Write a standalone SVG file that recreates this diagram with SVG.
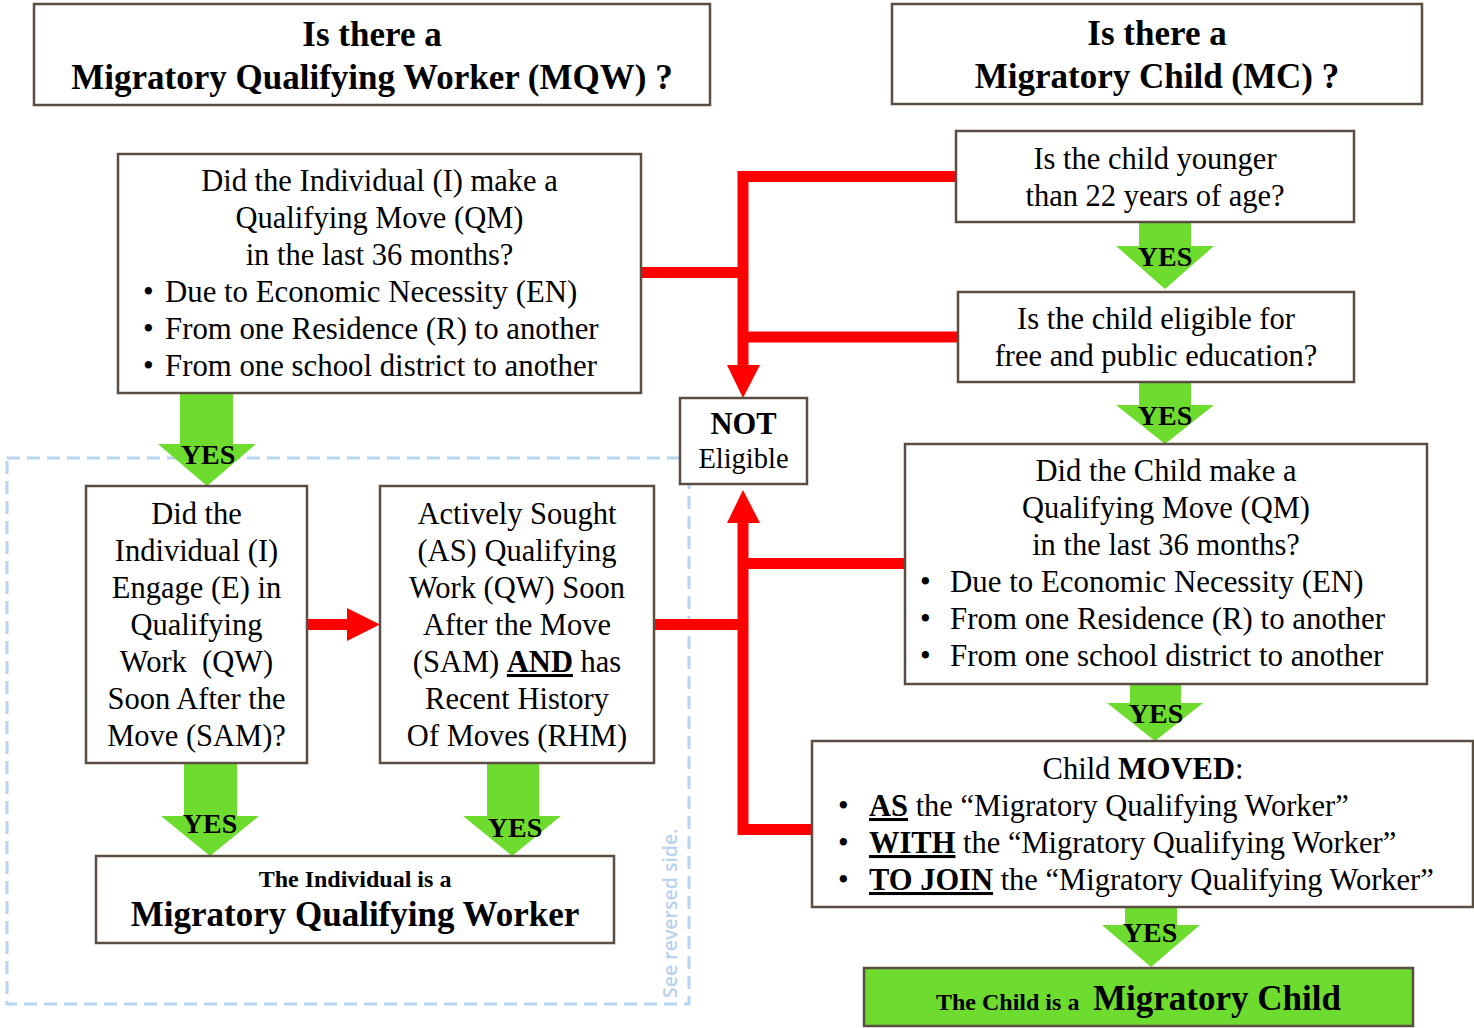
<svg xmlns="http://www.w3.org/2000/svg" width="1474" height="1028" viewBox="0 0 1474 1028">
<style>
.box{fill:#fff;stroke:#5a4e42;stroke-width:2.5}
.t{font-family:"Liberation Serif","Times New Roman",serif;font-size:30.5px;fill:#000}
.c{text-anchor:middle}
.b{font-weight:bold}
.h{font-family:"Liberation Serif","Times New Roman",serif;font-size:35px;font-weight:bold;text-anchor:middle;fill:#000}
.yes{font-family:"Liberation Serif","Times New Roman",serif;font-size:28px;font-weight:bold;text-anchor:middle;fill:#000}
.red{fill:none;stroke:#ff0000;stroke-width:11;stroke-linejoin:miter}
.rh{fill:#ff0000}
.g{fill:#6ddc2f}
.u{text-decoration:underline;font-weight:bold}
</style>
<rect width="1474" height="1028" fill="#fff"/>
<rect id="mqw-region" x="7" y="458" width="682" height="546" fill="none" stroke="#b8d4f4" stroke-width="3" stroke-dasharray="13 7"/>
<text transform="translate(677,998) rotate(-90)" font-family="'Open Sans',sans-serif" font-size="19.5" font-weight="600" fill="#b8d1ec">See reversed side.</text>
<g id="connectors">
<path class="red" d="M641 272.5H743"/>
<path class="red" d="M956 176.5H743V366"/>
<path class="red" d="M958 337H743"/>
<polygon class="rh" points="727,365 760,365 743,398"/>
<path class="red" d="M812 829.5H743V522"/>
<polygon class="rh" points="727,523 760,523 743,490"/>
<path class="red" d="M905 563.5H743"/>
<path class="red" d="M654 624.5H743"/>
<path class="red" d="M307 624.5H348"/>
<polygon class="rh" points="347,608 347,641 380,624.5"/>
<g id="yes1"><polygon class="g" points="180,393 233,393 233,444 256,444 207,486 158,444 180,444"/><text class="yes" x="208" y="464">YES</text></g>
<g id="yes2"><polygon class="g" points="1139,222 1191,222 1191,246 1214,246 1165,289 1116,246 1139,246"/><text class="yes" x="1165" y="266">YES</text></g>
<g id="yes3"><polygon class="g" points="1139,382 1191,382 1191,405 1214,405 1165,444 1116,405 1139,405"/><text class="yes" x="1165" y="425">YES</text></g>
<g id="yes4"><polygon class="g" points="1130,684 1181,684 1181,703 1203,703 1155,741 1107,703 1130,703"/><text class="yes" x="1156" y="723">YES</text></g>
<g id="yes5"><polygon class="g" points="1125,907 1177,907 1177,925 1200,925 1151,967 1102,925 1125,925"/><text class="yes" x="1150" y="942">YES</text></g>
<g id="yes6"><polygon class="g" points="184,763 237,763 237,816 259,816 210,856 161,816 184,816"/><text class="yes" x="210" y="833">YES</text></g>
<g id="yes7"><polygon class="g" points="487,763 539,763 539,816 561,816 512,856 463,816 487,816"/><text class="yes" x="515" y="837">YES</text></g>
</g>
<g id="title-mqw"><rect class="box" x="34" y="4" width="676" height="101"/>
<text class="h" x="372" y="46">Is there a</text><text class="h" x="372" y="89">Migratory Qualifying Worker (MQW) ?</text></g>
<g id="title-mc"><rect class="box" x="892" y="4" width="530" height="100"/>
<text class="h" x="1157" y="45">Is there a</text><text class="h" x="1157" y="88">Migratory Child (MC) ?</text></g>
<g id="individual-qm"><rect class="box" x="118" y="154" width="523" height="239"/>
<text class="t c" x="379.5" y="191">Did the Individual (I) make a</text>
<text class="t c" x="379.5" y="228">Qualifying Move (QM)</text>
<text class="t c" x="379.5" y="265">in the last 36 months?</text>
<text class="t" x="143" y="302">•</text><text class="t" x="165" y="302" style="font-size:30.8px">Due to Economic Necessity (EN)</text>
<text class="t" x="143" y="339">•</text><text class="t" x="165" y="339" style="font-size:30.8px">From one Residence (R) to another</text>
<text class="t" x="143" y="376">•</text><text class="t" x="165" y="376" style="font-size:30.8px">From one school district to another</text></g>
<g id="child-age"><rect class="box" x="956" y="131" width="398" height="91"/>
<text class="t c" x="1155" y="169">Is the child younger</text>
<text class="t c" x="1155" y="206">than 22 years of age?</text></g>
<g id="child-education"><rect class="box" x="958" y="292" width="396" height="90"/>
<text class="t c" x="1156" y="329">Is the child eligible for</text>
<text class="t c" x="1156" y="366">free and public education?</text></g>
<g id="not-eligible"><rect class="box" x="680" y="398" width="127" height="86"/>
<text class="t c b" x="743.5" y="434" font-size="28">NOT</text>
<text class="t c" x="743.5" y="468" style="font-size:28.5px">Eligible</text></g>
<g id="child-qm"><rect class="box" x="905" y="444" width="522" height="240"/>
<text class="t c" x="1166" y="481">Did the Child make a</text>
<text class="t c" x="1166" y="518">Qualifying Move (QM)</text>
<text class="t c" x="1166" y="555">in the last 36 months?</text>
<text class="t" x="920" y="592">•</text><text class="t" x="950" y="592" style="font-size:30.9px">Due to Economic Necessity (EN)</text>
<text class="t" x="920" y="629">•</text><text class="t" x="950" y="629" style="font-size:30.9px">From one Residence (R) to another</text>
<text class="t" x="920" y="666">•</text><text class="t" x="950" y="666" style="font-size:30.9px">From one school district to another</text></g>
<g id="child-moved"><rect class="box" x="812" y="741" width="661" height="166"/>
<text class="t c" x="1143" y="779">Child <tspan class="b">MOVED</tspan>:</text>
<text class="t" x="838" y="816">•</text><text class="t" x="869" y="816"><tspan class="u">AS</tspan> the “Migratory Qualifying Worker”</text>
<text class="t" x="838" y="853">•</text><text class="t" x="869" y="853"><tspan class="u">WITH</tspan> the “Migratory Qualifying Worker”</text>
<text class="t" x="838" y="890">•</text><text class="t" x="869" y="890"><tspan class="u">TO JOIN</tspan> the “Migratory Qualifying Worker”</text></g>
<g id="migratory-child"><rect x="864" y="968" width="549" height="58" fill="#6ddc2f" stroke="#5a4e42" stroke-width="2.5"/>
<text class="t b" x="936" y="1010" style="font-size:24px">The Child is a</text>
<text class="t b" x="1093" y="1010" style="font-size:35px">Migratory Child</text></g>
<g id="engage-qw"><rect class="box" x="86" y="486" width="221" height="277"/>
<text class="t c" x="196.5" y="524">Did the</text>
<text class="t c" x="196.5" y="561">Individual (I)</text>
<text class="t c" x="196.5" y="598">Engage (E) in</text>
<text class="t c" x="196.5" y="635">Qualifying</text>
<text class="t c" x="196.5" y="672" xml:space="preserve">Work  (QW)</text>
<text class="t c" x="196.5" y="709">Soon After the</text>
<text class="t c" x="196.5" y="746">Move (SAM)?</text></g>
<g id="actively-sought"><rect class="box" x="380" y="486" width="274" height="277"/>
<text class="t c" x="517" y="524">Actively Sought</text>
<text class="t c" x="517" y="561">(AS) Qualifying</text>
<text class="t c" x="517" y="598">Work (QW) Soon</text>
<text class="t c" x="517" y="635">After the Move</text>
<text class="t c" x="517" y="672">(SAM) <tspan class="u">AND</tspan> has</text>
<text class="t c" x="517" y="709">Recent History</text>
<text class="t c" x="517" y="746">Of Moves (RHM)</text></g>
<g id="mqw-result"><rect class="box" x="96" y="856" width="518" height="87"/>
<text class="t c b" x="355" y="887" style="font-size:24px">The Individual is a</text>
<text class="h" x="355" y="926">Migratory Qualifying Worker</text></g>
</svg>
